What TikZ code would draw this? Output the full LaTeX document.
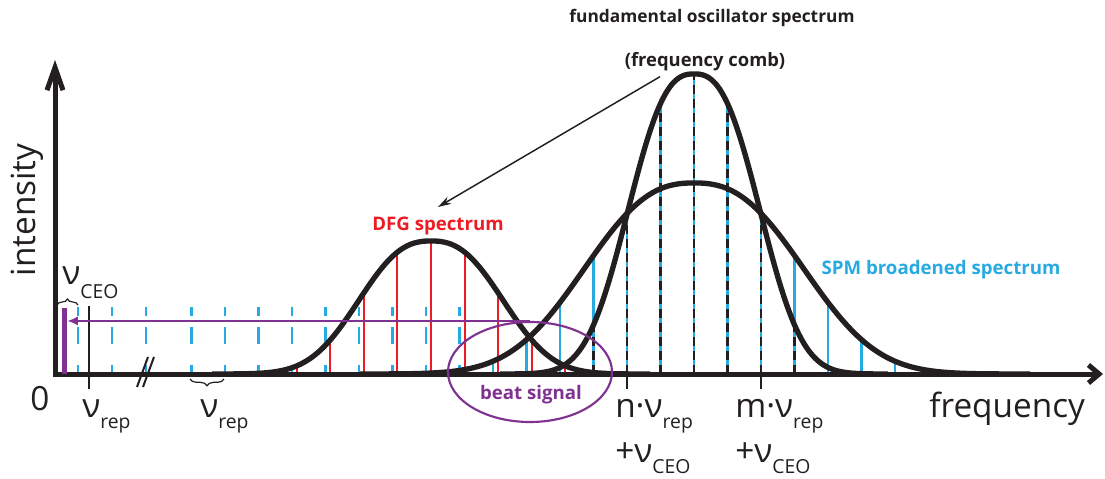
\documentclass[tikz,border=0pt]{standalone}
\usepackage{fontspec}
\setmainfont{Open Sans}
\usetikzlibrary{arrows.meta,positioning,calc,shapes.geometric,decorations.pathreplacing}
\definecolor{ink}{RGB}{35,31,32}
\definecolor{spmblue}{RGB}{39,170,225}
\definecolor{dfgred}{RGB}{237,28,36}
\definecolor{beatpurple}{RGB}{127,50,145}
\newcommand{\lowsub}[2][8.25pt]{\raisebox{-#1}{\fontsize{14.5}{15}\selectfont #2}}
\tikzset{
  axln/.style={draw=ink, line width=3.75pt, line join=miter},
  envl/.style={draw=ink, line width=4pt, line join=round},
  spm/.style={draw=spmblue, line width=2pt},
  spmdash/.style={spm, dash pattern=on 6.75pt off 8.25pt on 12.75pt off 15.75pt},
  fundln/.style={draw=ink, line width=2pt, dash pattern=on 6.75pt off 3.75pt},
  dfg/.style={draw=dfgred, line width=1.6pt},
  tickln/.style={draw=ink, line width=1.5pt},
  brc/.style={draw=ink, line width=0.9pt, decorate, decoration={brace, amplitude=#1}},
  lbl/.style={inner sep=0pt, text=ink, font=\fontsize{25}{30}\selectfont},
  ttl/.style={inner sep=0pt, text=ink, font=\fontsize{13}{15}\selectfont\bfseries},
  clab/.style={inner sep=0pt, font=\fontsize{14}{16}\selectfont\bfseries},
  parr/.style={draw=beatpurple, line width=1.6pt, -{Latex[length=8pt,width=7pt]}},
  tarr/.style={draw=ink, line width=1.1pt, -{Stealth[length=10pt,width=6pt]}}
}
\begin{document}
\begin{tikzpicture}[x=0.75pt, y=-0.75pt,
  declare function={
    spmh(\x)=191*exp(-1*((abs(\x-694)+0.01)/135)^2.5);
    fundh(\x)=300*exp(-1*((abs(\x-694)+0.01)/80)^2.6);
    dfgh(\x)=133*exp(-1*((abs(\x-431)+0.01)/89)^2.5);
  }]
  \useasboundingbox (0,0) rectangle (1105,478);
  % comb lines
  \foreach \cx in {78,112,146}
    \draw[spmdash] (\cx,307) -- (\cx,374);
  \foreach \k in {-15,...,-7}
    \draw[spmdash] ({694+33.5*\k},307) -- ({694+33.5*\k},374);
  \foreach \k in {-6,...,7} {
    \pgfmathsetmacro\cx{694+33.5*\k}
    \pgfmathsetmacro\cy{374-max(spmh(\cx),fundh(\cx))}
    \draw[spm] (\cx,374) -- (\cx,\cy);
  }
  \foreach \j in {-4,...,4} {
    \pgfmathsetmacro\cx{431+33.6*\j}
    \pgfmathsetmacro\cy{374-dfgh(\cx)}
    \draw[dfg] (\cx,374) -- (\cx,\cy);
  }
  \foreach \k in {-3,...,3} {
    \pgfmathsetmacro\cx{694+33.5*\k}
    \pgfmathsetmacro\cy{374-fundh(\cx)}
    \draw[fundln] (\cx,374) -- (\cx,\cy);
  }
  % axes
  \coordinate (orig) at (55,374);
  \coordinate (ytip) at (55,60);
  \coordinate (xtip) at (1103,374);
  \draw[axln, {Straight Barb[length=17pt,width=12pt]}-{Straight Barb[length=8pt,width=13.5pt]}]
    (ytip) -- (orig) -- (xtip);
  \draw[tickln] (137,387) -- (148,357);
  \draw[tickln] (143,387) -- (154,357);
  % envelopes
  \draw[envl] plot[domain=212:650, samples=120, smooth] (\x,{374-dfgh(\x)});
  \draw[envl] plot[domain=360:1030, samples=160, smooth] (\x,{374-spmh(\x)});
  \draw[envl] plot[domain=500:888, samples=140, smooth] (\x,{374-fundh(\x)});
  % ticks and braces
  \draw[tickln] (89,306) -- (89,389);
  \draw[tickln] (627,374) -- (627,389);
  \draw[tickln] (761,374) -- (761,389);
  \draw[brc=4.5pt] (57,305) -- (78,305);
  \draw[brc=5pt] (224,379) -- (190,379);
  % beat signal
  \node[fill=beatpurple, inner sep=0pt, minimum width=3.75pt, minimum height=49.5pt] (ceobar) at (64.5,341) {};
  \node[draw=beatpurple, line width=1.6pt, ellipse, inner sep=0pt, minimum width=123pt, minimum height=75pt] (beat) at (530,372) {};
  \draw[parr] (beat.north) -- (beat.north -| ceobar.east);
  \node[clab, text=beatpurple, anchor=base] (beatlbl) at (531,399) {beat signal};
  % labels
  \node[lbl, anchor=base west] (zero) at (30,410) {0};
  \node[lbl, anchor=base west] (ceo) at (62,284) {ν\lowsub[10.5pt]{CEO}};
  \node[lbl, anchor=base west] (rep1) at (82,417) {ν\lowsub{rep}};
  \node[lbl, anchor=base west] (rep2) at (200,417) {ν\lowsub{rep}};
  \node[lbl, anchor=base west] (nlab) at (615,417) {n·ν\lowsub{rep}};
  \node[lbl, anchor=base west] (nceo) at ($(nlab.base west)+(0,45)$) {+ν\lowsub{CEO}};
  \node[lbl, anchor=base west] (mlab) at (735,417) {m·ν\lowsub{rep}};
  \node[lbl, anchor=base west] (mceo) at ($(mlab.base west)+(0,45)$) {+ν\lowsub{CEO}};
  \node[lbl, anchor=base west] (xlbl) at (929,417) {frequency};
  \node[lbl, rotate=90, anchor=base] (ylbl) at (35,210) {intensity};
  \node[ttl, anchor=base] (fund) at (712,23) {fundamental oscillator spectrum};
  \node[ttl, anchor=base, font=\fontsize{13.8}{15}\selectfont\bfseries] (fcomb) at (705,66) {(frequency comb)};
  \node[clab, text=dfgred, anchor=base] (dfglbl) at (438,230) {DFG spectrum};
  \node[clab, text=spmblue, anchor=base] (spmlbl) at (941,274) {SPM broadened spectrum};
  \coordinate (dfgtip) at (438,207);
  \draw[tarr] ($(fcomb.south)+(-45,6)$) -- (dfgtip);
\end{tikzpicture}
\end{document}
